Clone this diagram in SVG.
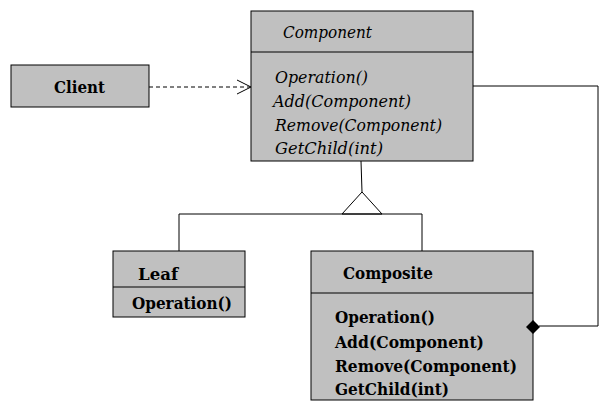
<svg xmlns="http://www.w3.org/2000/svg" width="616" height="408" viewBox="0 0 616 408">
<style>
.box{fill:#c0c0c0;stroke:#000;stroke-width:1}
.ln{fill:none;stroke:#000;stroke-width:1}
.it{font-family:"DejaVu Serif","Liberation Serif",serif;font-style:italic;font-size:16px;fill:#000}
.bd{font-family:"DejaVu Serif","Liberation Serif",serif;font-weight:bold;font-size:16.5px;fill:#000}
</style>
<rect width="616" height="408" fill="#fff"/>
<g id="component">
<rect class="box" x="251" y="11" width="222" height="150"/>
<line class="ln" x1="251" y1="52" x2="473" y2="52"/>
<text class="it" x="283" y="38" textLength="89" lengthAdjust="spacingAndGlyphs">Component</text>
<text class="it" x="275" y="83" textLength="93" lengthAdjust="spacingAndGlyphs">Operation()</text>
<text class="it" x="273" y="107" textLength="138" lengthAdjust="spacingAndGlyphs">Add(Component)</text>
<text class="it" x="275" y="131" textLength="167" lengthAdjust="spacingAndGlyphs">Remove(Component)</text>
<text class="it" x="275" y="154" textLength="108" lengthAdjust="spacingAndGlyphs">GetChild(int)</text>
</g>
<g id="client">
<rect class="box" x="11" y="65" width="138" height="42"/>
<text class="bd" x="54" y="93" textLength="51" lengthAdjust="spacingAndGlyphs">Client</text>
</g>
<g id="leaf">
<rect class="box" x="113" y="251" width="132" height="66"/>
<line class="ln" x1="113" y1="287" x2="245" y2="287"/>
<text class="bd" x="138" y="280" textLength="40" lengthAdjust="spacingAndGlyphs">Leaf</text>
<text class="bd" x="132" y="309" textLength="100" lengthAdjust="spacingAndGlyphs">Operation()</text>
</g>
<g id="composite">
<rect class="box" x="311" y="251" width="222" height="149"/>
<line class="ln" x1="311" y1="293" x2="533" y2="293"/>
<text class="bd" x="343" y="279" textLength="90" lengthAdjust="spacingAndGlyphs">Composite</text>
<text class="bd" x="335" y="323" textLength="100" lengthAdjust="spacingAndGlyphs">Operation()</text>
<text class="bd" x="335" y="348" textLength="149" lengthAdjust="spacingAndGlyphs">Add(Component)</text>
<text class="bd" x="335" y="372" textLength="182" lengthAdjust="spacingAndGlyphs">Remove(Component)</text>
<text class="bd" x="335" y="395" textLength="114" lengthAdjust="spacingAndGlyphs">GetChild(int)</text>
</g>
<g id="connectors">
<line class="ln" x1="149" y1="87" x2="250" y2="87" stroke-dasharray="4,3"/>
<polyline class="ln" points="237,80 251,87 237,94"/>
<line class="ln" x1="361" y1="161" x2="362" y2="192"/>
<polygon class="ln" points="362,192 342,214 382,214"/>
<polyline class="ln" points="179,251 179,214 422,214 422,251"/>
<polyline class="ln" points="473,86 598,86 598,326 539,326"/>
<polygon points="526,327 533,320 540,327 533,334" fill="#000"/>
</g>
</svg>
